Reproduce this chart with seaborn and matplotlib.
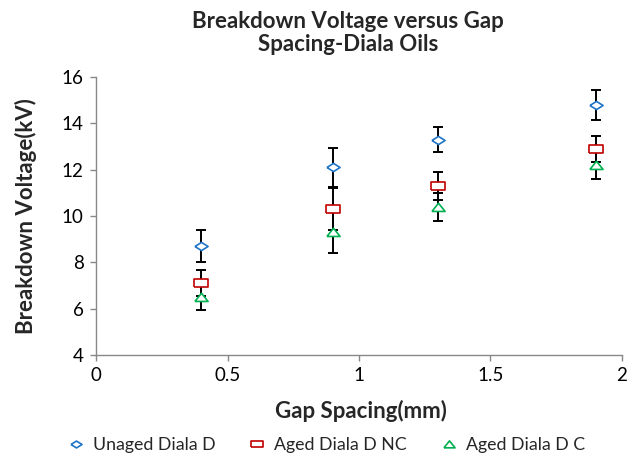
import numpy as np
import pandas as pd
import matplotlib
matplotlib.use("Agg")
import matplotlib.pyplot as plt
import seaborn as sns
from matplotlib.lines import Line2D

# Dados
gap = [0.4, 0.9, 1.3, 1.9]
series = ["Unaged Diala D", "Aged Diala D NC", "Aged Diala D C"]
unaged = [8.7, 12.1, 13.3, 14.8]
unaged_err = [0.7, 0.85, 0.55, 0.65]
aged_nc = [7.1, 10.3, 11.3, 12.9]
aged_nc_err = [0.55, 0.9, 0.6, 0.55]
aged_c = [6.5, 9.3, 10.4, 12.2]
aged_c_err = [0.55, 0.9, 0.6, 0.6]

cores = {"Unaged Diala D": "#1F74C8", "Aged Diala D NC": "#C00000", "Aged Diala D C": "#00B050"}

# marcadores achatados no estilo Excel
diamante = [(-1, 0), (0, 0.62), (1, 0), (0, -0.62), (-1, 0)]
quadrado = [(-1, -0.62), (1, -0.62), (1, 0.62), (-1, 0.62), (-1, -0.62)]
triangulo = [(-1, -0.6), (1, -0.6), (0, 0.65), (-1, -0.6)]
marcadores = {"Unaged Diala D": diamante, "Aged Diala D NC": quadrado, "Aged Diala D C": triangulo}

df = pd.DataFrame({
    "Gap": gap * 3,
    "BDV": unaged + aged_nc + aged_c,
    "Err": unaged_err + aged_nc_err + aged_c_err,
    "Serie": [s for s in series for _ in gap],
})

sns.set_style("white")
plt.rcParams["font.family"] = ["Lato", "DejaVu Sans"]

fig = plt.figure(figsize=(6.33, 4.58), dpi=100)
ax = fig.add_axes([0.1517, 0.2249, 0.8309, 0.607])

# barras de erro
for s in series:
    d = df[df["Serie"] == s]
    ax.errorbar(d["Gap"], d["BDV"], yerr=d["Err"], fmt="none", ecolor="black",
                elinewidth=1.4, capsize=3.8, capthick=1.4, zorder=2)

# pontos
for s in series:
    d = df[df["Serie"] == s]
    sns.scatterplot(data=d, x="Gap", y="BDV", ax=ax, marker=marcadores[s], s=90,
                    facecolor="white", edgecolor=cores[s], linewidth=1.2, zorder=3, legend=False)

ax.set_xlim(0, 2)
ax.set_ylim(4, 16)
ax.set_xticks([0, 0.5, 1, 1.5, 2])
ax.set_xticklabels(["0", "0.5", "1", "1.5", "2"])
ax.set_yticks(range(4, 17, 2))
ax.tick_params(axis="both", labelsize=13.5, colors="#888888", labelcolor="black",
               direction="out", length=4, width=1, left=True, bottom=True, pad=5)
for lado in ["top", "right"]:
    ax.spines[lado].set_visible(False)
for lado in ["left", "bottom"]:
    ax.spines[lado].set_color("#888888")
    ax.spines[lado].set_linewidth(1)

ax.set_xlabel("Gap Spacing(mm)", fontsize=16, fontweight="bold")
ax.set_ylabel("Breakdown Voltage(kV)", fontsize=16, fontweight="bold")
ax.xaxis.set_label_coords(0.504, -0.163)
ax.yaxis.set_label_coords(-0.112, 0.5)
fig.text(0.55, 0.975, "Breakdown Voltage versus Gap\nSpacing-Diala Oils", ha="center", va="top",
         fontsize=16, fontweight="bold", linespacing=1.08)

handles = [Line2D([], [], linestyle="none", marker=marcadores[s], markersize=8,
                  markerfacecolor="white", markeredgecolor=cores[s], markeredgewidth=1.2)
           for s in series]
fig.legend(handles, series, loc="center", bbox_to_anchor=(0.515, 0.028), ncol=3, frameon=False,
           fontsize=12.8, columnspacing=1.85, handletextpad=0.45, handlelength=1.0)

fig.savefig("out.png", dpi=100)
